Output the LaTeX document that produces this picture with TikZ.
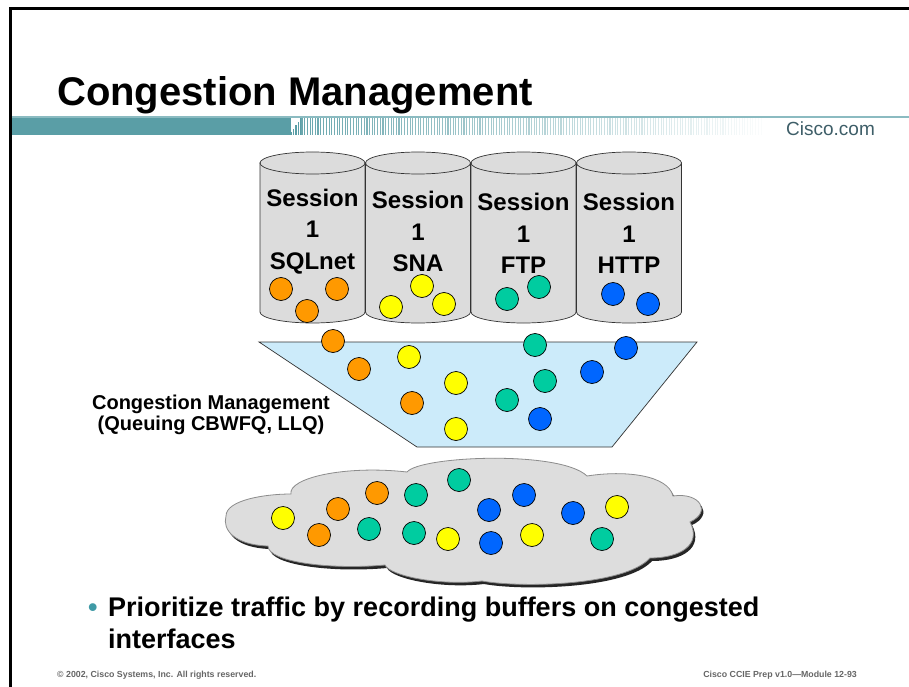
\documentclass[tikz,border=0pt]{standalone}
\usepackage{fontspec}
\setmainfont{Liberation Sans}
\definecolor{barteal}{HTML}{5A9EA6}
\definecolor{bulletteal}{HTML}{3F9AA6}
\definecolor{cylgrey}{HTML}{DCDCDC}
\definecolor{cloudgrey}{HTML}{DDDDDD}
\definecolor{funnelblue}{HTML}{CCEBFA}
\definecolor{pkorange}{HTML}{FF9900}
\definecolor{pkyellow}{HTML}{FFFF00}
\definecolor{pkteal}{HTML}{00CCA0}
\definecolor{pkblue}{HTML}{0066FF}
\definecolor{footgrey}{HTML}{666666}
\definecolor{logogrey}{HTML}{3E5E68}
\begin{document}
\begin{tikzpicture}[x=1pt,y=-1pt,
  ball/.style={circle,draw=black,line width=0.7pt,minimum size=23pt,inner sep=0pt},
  cylbody/.style={fill=cylgrey,draw=black!80,line width=0.7pt},
  cyltext/.style={font=\fontsize{24}{31.5}\selectfont\bfseries,align=center},
  lbl/.style={font=\fontsize{20}{21}\selectfont\bfseries,align=center},
  foot/.style={font=\fontsize{8.8}{10}\selectfont\bfseries,text=footgrey,inner sep=0pt}]
\useasboundingbox (0,0) rectangle (909,687);
\fill[white] (0,0) rectangle (909,687);

% frame
\draw[line width=3pt] (10.5,687) -- (10.5,8.5) -- (909,8.5);

% title
\node[anchor=base west,inner sep=0pt,font=\fontsize{40}{44}\selectfont\bfseries] (title) at (57,106) {Congestion Management};

% header bar
\fill[barteal!70] (12,116.5) rectangle (909,118.5);
\fill[barteal] (12,118.5) rectangle (291,135.5);
\foreach \k in {0,...,4}{
  \fill[barteal] ({291+2.2*\k},{135.5-3.4*(\k+1)}) rectangle ({292.2+2.2*\k},135.5);
}
\foreach \k in {0,...,170}{
  \pgfmathsetmacro\xx{302+2.7*\k}
  \pgfmathsetmacro\op{0.9*(1-\k/175)}
  \pgfmathsetmacro\lw{mod(\k,6)==0 ? 1.5 : 1.0}
  \draw[barteal,line width=\lw pt,opacity=\op] (\xx,118.5) -- (\xx,135.5);
}
\node[anchor=base west,inner sep=0pt,text=logogrey,font=\fontsize{19}{20}\selectfont] (logo) at (786,136) {Cisco.com};

% session cylinders
\foreach \cx/\dy/\nm/\lab in {312.5/0/cylA/SQLnet, 418/0/cylB/SNA, 523.5/2/cylC/FTP, 629/2/cylD/HTTP}{
  \draw[cylbody] (\cx-52.5,163) -- (\cx-52.5,312)
     arc[start angle=180,end angle=0,x radius=52.5,y radius=11]
     -- (\cx+52.5,163) -- cycle;
  \draw[cylbody] (\cx,163) ellipse [x radius=52.5, y radius=11];
  \node[cyltext] (\nm) at (\cx,231.5+\dy) {Session\\1\\\lab};
}

% queue funnel
\draw[fill=funnelblue,draw=black!80,line width=0.7pt] (259,342) -- (697,342) -- (612,447) -- (417,447) -- cycle;
\node[lbl] (cmlabel) at (211,415) {Congestion Management\\(Queuing CBWFQ, LLQ)};

% output cloud
\path[fill=black!85,xshift=2pt,yshift=-3pt]
  (226,516) .. controls (226,500) and (265,494) .. (291,494)
  .. controls (288,478) and (345,465) .. (407,472)
  .. controls (420,456) and (560,450) .. (587,476)
  .. controls (625,470) and (668,475) .. (673,496)
  .. controls (700,492) and (712,512) .. (690,522)
  .. controls (702,545) and (680,558) .. (650,558)
  .. controls (625,586) and (520,588) .. (482,581)
  .. controls (440,586) and (390,576) .. (385,565)
  .. controls (330,570) and (268,562) .. (268,546)
  .. controls (235,545) and (222,530) .. (226,516) -- cycle;
\draw[fill=cloudgrey,draw=black!45,line width=0.8pt]
  (226,516) .. controls (226,500) and (265,494) .. (291,494)
  .. controls (288,478) and (345,465) .. (407,472)
  .. controls (420,456) and (560,450) .. (587,476)
  .. controls (625,470) and (668,475) .. (673,496)
  .. controls (700,492) and (712,512) .. (690,522)
  .. controls (702,545) and (680,558) .. (650,558)
  .. controls (625,586) and (520,588) .. (482,581)
  .. controls (440,586) and (390,576) .. (385,565)
  .. controls (330,570) and (268,562) .. (268,546)
  .. controls (235,545) and (222,530) .. (226,516) -- cycle;

% packets in the session queues
\foreach \x/\y [count=\i] in {281/289, 307/311, 337/289}
  \node[ball,fill=pkorange] (qo\i) at (\x,\y) {};
\foreach \x/\y [count=\i] in {391/307, 422/286, 444/304}
  \node[ball,fill=pkyellow] (qy\i) at (\x,\y) {};
\foreach \x/\y [count=\i] in {507/299, 539/287}
  \node[ball,fill=pkteal] (qt\i) at (\x,\y) {};
\foreach \x/\y [count=\i] in {613/294, 648/304}
  \node[ball,fill=pkblue] (qb\i) at (\x,\y) {};

% packets in the funnel
\foreach \x/\y [count=\i] in {333/341, 359/369, 412/403}
  \node[ball,fill=pkorange] (fo\i) at (\x,\y) {};
\foreach \x/\y [count=\i] in {409/357, 456/383, 456/429}
  \node[ball,fill=pkyellow] (fy\i) at (\x,\y) {};
\foreach \x/\y [count=\i] in {535/345, 545/381, 507/400}
  \node[ball,fill=pkteal] (ft\i) at (\x,\y) {};
\foreach \x/\y [count=\i] in {626/348, 592/372, 540/419}
  \node[ball,fill=pkblue] (fb\i) at (\x,\y) {};

% packets in the cloud
\foreach \x/\y [count=\i] in {283/518, 448/539, 532/535, 617/507}
  \node[ball,fill=pkyellow] (cy\i) at (\x,\y) {};
\foreach \x/\y [count=\i] in {319/535, 338/509, 377/493}
  \node[ball,fill=pkorange] (co\i) at (\x,\y) {};
\foreach \x/\y [count=\i] in {369/529, 416/495, 414/533, 459/480, 602/539}
  \node[ball,fill=pkteal] (ct\i) at (\x,\y) {};
\foreach \x/\y [count=\i] in {489/510, 491/543, 524/495, 573/513}
  \node[ball,fill=pkblue] (cb\i) at (\x,\y) {};

% bullet text
\node[anchor=base west,inner sep=0pt,text=bulletteal,font=\fontsize{27}{32}\selectfont\bfseries] (dot) at (88,616) {•};
\node[anchor=base west,inner sep=0pt,font=\fontsize{27}{32}\selectfont\bfseries] (bl1) at (108,616) {Prioritize traffic by recording buffers on congested};
\node[anchor=base west,inner sep=0pt,font=\fontsize{27}{32}\selectfont\bfseries] (bl2) at (108,648) {interfaces};

% footer
\node[foot,anchor=base west] (copy) at (57,677) {© 2002, Cisco Systems, Inc. All rights reserved.};
\node[foot,anchor=base east] (module) at (857,677) {Cisco CCIE Prep v1.0—Module 12-93};
\end{tikzpicture}
\end{document}
